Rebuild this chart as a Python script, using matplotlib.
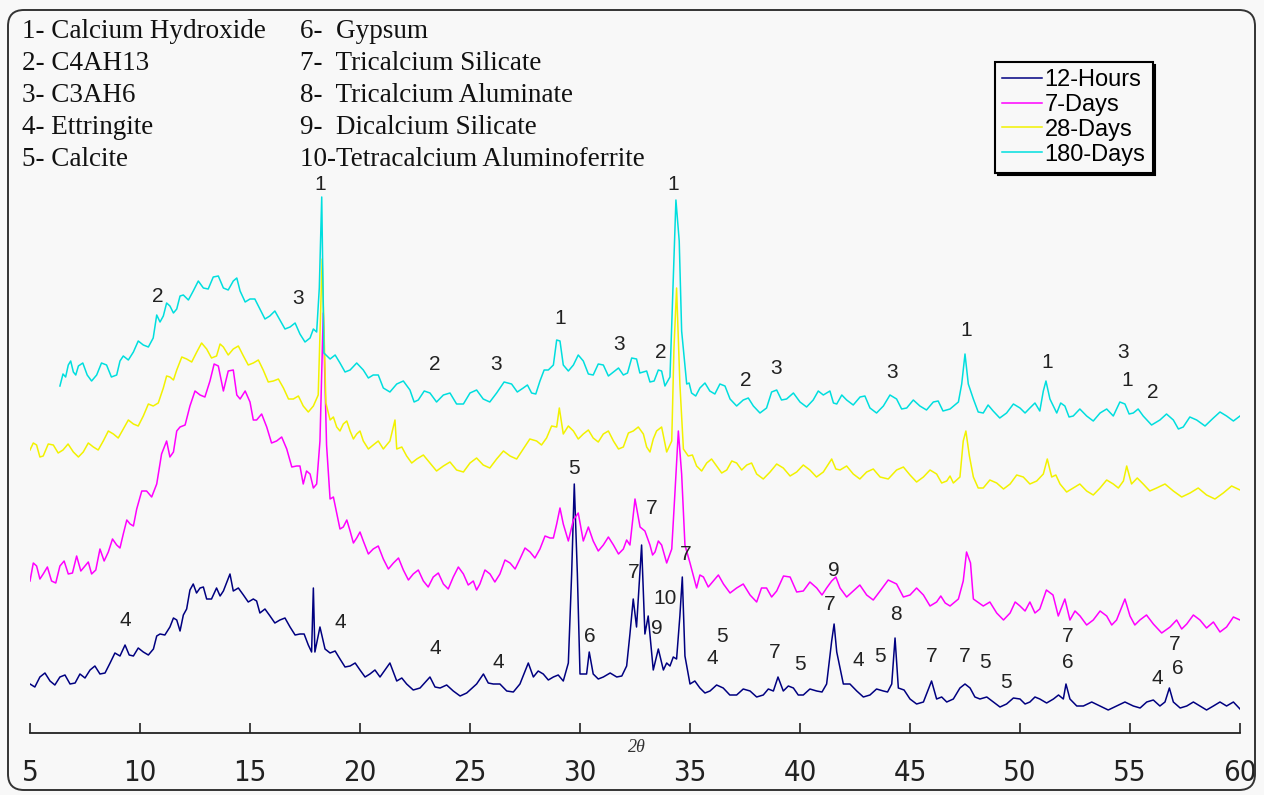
import matplotlib
matplotlib.use("Agg")
import matplotlib.pyplot as plt
from matplotlib.patches import FancyBboxPatch

# ---------------- data (2-theta in degrees, relative intensity) ----------------
x_180d = [6.36, 6.5, 6.62, 6.74, 6.85, 6.97, 7.08, 7.2, 7.4, 7.6, 7.8, 8.03, 8.25, 8.48, 8.7, 8.94,
          9.09, 9.24, 9.47, 9.7, 9.92, 10.15, 10.38, 10.6, 10.76, 10.91, 11.06, 11.21, 11.36, 11.52,
          11.67, 11.82, 11.97, 12.2, 12.42, 12.65, 12.88, 13.1, 13.33, 13.56, 13.79, 14.01, 14.24, 14.4,
          14.55, 14.78, 15.0, 15.22, 15.45, 15.68, 15.9, 16.13, 16.36, 16.59, 16.82, 17.05, 17.27, 17.5,
          17.73, 17.88, 18.03, 18.15, 18.26, 18.36, 18.64, 18.87, 19.09, 19.32, 19.55, 19.85, 20.15, 20.38,
          20.6, 20.83, 21.06, 21.36, 21.67, 21.97, 22.27, 22.46, 22.65, 22.92, 23.18, 23.48, 23.79, 24.09,
          24.39, 24.7, 25.0, 25.3, 25.6, 25.9, 26.21, 26.55, 26.89, 27.15, 27.42, 27.61, 27.8, 27.99,
          28.18, 28.37, 28.56, 28.79, 28.94, 29.09, 29.24, 29.47, 29.7, 29.92, 30.15, 30.38, 30.6, 30.83,
          31.06, 31.29, 31.52, 31.75, 31.97, 32.16, 32.35, 32.57, 32.72, 32.88, 33.03, 33.18, 33.37, 33.56,
          33.71, 33.86, 34.09, 34.24, 34.36, 34.51, 34.62, 34.85, 34.96, 35.07, 35.26, 35.45, 35.68, 35.9,
          36.13, 36.36, 36.59, 36.82, 37.12, 37.42, 37.65, 37.88, 38.18, 38.48, 38.71, 38.94, 39.16, 39.39,
          39.7, 40.0, 40.3, 40.6, 40.83, 41.06, 41.36, 41.52, 41.67, 41.9, 42.12, 42.42, 42.73, 42.95,
          43.18, 43.48, 43.79, 44.09, 44.39, 44.62, 44.85, 45.15, 45.45, 45.75, 46.06, 46.28, 46.5, 46.82,
          47.2, 47.35, 47.5, 47.65, 47.88, 48.1, 48.33, 48.55, 48.78, 49.08, 49.39, 49.7, 50.0, 50.23,
          50.45, 50.68, 50.9, 51.06, 51.18, 51.36, 51.67, 51.85, 52.04, 52.23, 52.42, 52.72, 53.03, 53.33,
          53.64, 53.94, 54.24, 54.54, 54.77, 54.96, 55.15, 55.37, 55.6, 55.98, 56.36, 56.66, 56.97, 57.2,
          57.42, 57.72, 58.03, 58.41, 58.79, 59.09, 59.39, 59.7, 60.0]
y_180d = [347, 359, 356, 368, 372, 361, 358, 367, 370, 358, 352, 358, 370, 368, 356, 358,
          372, 377, 373, 381, 392, 388, 386, 395, 418, 411, 417, 430, 427, 420,
          424, 437, 438, 433, 442, 452, 445, 444, 456, 457, 445, 443, 452, 455,
          442, 431, 434, 434, 424, 414, 417, 422, 413, 404, 406, 410, 399, 391,
          395, 404, 401, 445, 536, 380, 374, 378, 370, 361, 363, 370, 363, 355,
          358, 358, 345, 341, 349, 352, 343, 331, 333, 342, 340, 331, 338, 340,
          329, 329, 340, 343, 334, 331, 340, 351, 349, 341, 345, 348, 340, 339,
          352, 363, 363, 368, 393, 392, 368, 362, 368, 378, 372, 359, 358, 369,
          368, 357, 361, 365, 358, 360, 375, 374, 360, 361, 362, 351, 352, 363,
          362, 347, 356, 456, 533, 492, 402, 349, 350, 340, 337, 345, 350, 342,
          339, 349, 347, 334, 327, 333, 335, 327, 320, 325, 341, 343, 333, 334,
          340, 331, 326, 333, 342, 338, 342, 330, 329, 338, 333, 328, 336, 337,
          325, 320, 327, 338, 334, 324, 325, 333, 327, 323, 331, 332, 322, 324,
          331, 349, 379, 349, 334, 321, 320, 328, 322, 315, 320, 329, 325, 320,
          325, 330, 322, 342, 352, 334, 320, 330, 327, 316, 317, 324, 317, 312,
          320, 324, 317, 331, 329, 319, 320, 324, 317, 308, 313, 319, 313, 304,
          306, 316, 313, 307, 315, 321, 317, 312, 317]

x_28d = [5.0, 5.15, 5.3, 5.45, 5.6, 5.83, 6.06, 6.28, 6.5, 6.73, 6.97, 7.2, 7.42, 7.65, 7.88, 8.1,
         8.33, 8.56, 8.79, 9.01, 9.24, 9.47, 9.7, 9.92, 10.15, 10.38, 10.6, 10.83, 11.06, 11.21,
         11.36, 11.52, 11.67, 11.9, 12.12, 12.35, 12.58, 12.8, 13.03, 13.25, 13.48, 13.64, 13.79, 14.01,
         14.24, 14.47, 14.7, 14.92, 15.15, 15.38, 15.6, 15.83, 16.06, 16.29, 16.52, 16.75, 16.97, 17.2,
         17.42, 17.65, 17.88, 18.1, 18.28, 18.45, 18.64, 18.79, 18.94, 19.09, 19.24, 19.4, 19.55, 19.7,
         19.85, 20.0, 20.15, 20.38, 20.6, 20.83, 21.06, 21.36, 21.59, 21.67, 21.9, 22.12, 22.35, 22.58,
         22.88, 23.18, 23.48, 23.79, 24.09, 24.39, 24.7, 25.0, 25.3, 25.6, 25.9, 26.21, 26.52, 26.82,
         27.12, 27.42, 27.72, 28.03, 28.25, 28.48, 28.71, 28.94, 29.06, 29.24, 29.47, 29.7, 29.92, 30.15,
         30.38, 30.6, 30.83, 31.06, 31.29, 31.52, 31.75, 31.97, 32.2, 32.42, 32.65, 32.88, 33.03, 33.18,
         33.33, 33.48, 33.71, 33.94, 34.17, 34.27, 34.39, 34.54, 34.7, 34.92, 35.11, 35.3, 35.53, 35.76,
         35.98, 36.21, 36.44, 36.67, 36.9, 37.12, 37.35, 37.58, 37.8, 38.03, 38.33, 38.64, 38.94, 39.24,
         39.55, 39.85, 40.15, 40.45, 40.75, 41.06, 41.44, 41.63, 41.82, 42.12, 42.42, 42.72, 43.03, 43.33,
         43.64, 44.01, 44.39, 44.7, 45.0, 45.3, 45.61, 45.91, 46.21, 46.44, 46.67, 46.82, 46.97, 47.27,
         47.42, 47.54, 47.7, 47.88, 48.1, 48.33, 48.63, 48.94, 49.25, 49.55, 49.85, 50.15, 50.45, 50.76,
         51.06, 51.24, 51.44, 51.63, 51.82, 52.12, 52.42, 52.72, 53.03, 53.33, 53.64, 53.94, 54.24, 54.47,
         54.7, 54.85, 55.07, 55.33, 55.6, 55.9, 56.21, 56.59, 56.97, 57.35, 57.73, 58.1, 58.48, 58.86,
         59.24, 59.62, 60.0]
y_28d = [283, 290, 288, 276, 277, 289, 288, 280, 283, 289, 281, 276, 281, 290, 286, 283,
         292, 302, 299, 295, 304, 313, 309, 307, 317, 329, 327, 330, 345, 357,
         356, 353, 363, 376, 374, 371, 381, 390, 384, 375, 377, 389, 386, 378,
         384, 387, 377, 368, 370, 373, 363, 351, 352, 354, 345, 334, 334, 337,
         327, 321, 327, 338, 474, 330, 313, 316, 306, 302, 309, 312, 302, 294,
         299, 302, 292, 284, 288, 292, 284, 292, 313, 284, 286, 277, 270, 274,
         278, 270, 262, 267, 271, 263, 261, 270, 275, 268, 265, 274, 282, 277,
         274, 284, 294, 292, 288, 295, 307, 306, 325, 299, 307, 302, 294, 299,
         303, 295, 291, 299, 302, 292, 284, 286, 300, 302, 306, 299, 286, 281,
         294, 302, 306, 281, 292, 384, 445, 349, 284, 277, 278, 267, 262, 270,
         274, 267, 260, 263, 272, 270, 263, 268, 270, 259, 254, 261, 269, 265,
         257, 261, 268, 263, 256, 261, 274, 264, 263, 267, 259, 254, 261, 264,
         256, 254, 263, 266, 258, 251, 256, 263, 259, 250, 252, 257, 250, 256,
         292, 302, 277, 256, 245, 245, 253, 250, 244, 249, 258, 256, 249, 252,
         259, 274, 256, 258, 249, 241, 245, 249, 242, 238, 245, 253, 249, 245,
         252, 267, 249, 255, 249, 242, 245, 249, 242, 236, 240, 245, 238, 234,
         240, 247, 243]

x_7d = [5.0, 5.15, 5.3, 5.45, 5.6, 5.79, 5.98, 6.17, 6.36, 6.55, 6.74, 6.93, 7.12, 7.31, 7.5, 7.65,
        7.8, 7.99, 8.18, 8.37, 8.56, 8.75, 8.94, 9.09, 9.24, 9.4, 9.55, 9.7, 9.85, 10.08,
        10.3, 10.53, 10.76, 10.98, 11.21, 11.36, 11.52, 11.67, 11.82, 12.05, 12.27, 12.5, 12.73, 12.95,
        13.18, 13.37, 13.56, 13.79, 14.01, 14.24, 14.4, 14.55, 14.78, 15.0, 15.15, 15.3, 15.53, 15.76,
        15.98, 16.21, 16.44, 16.67, 16.9, 17.12, 17.27, 17.42, 17.57, 17.73, 17.88, 18.03, 18.18, 18.33,
        18.48, 18.64, 18.79, 18.94, 19.09, 19.24, 19.4, 19.55, 19.7, 19.85, 20.0, 20.15, 20.38, 20.6,
        20.83, 21.06, 21.29, 21.52, 21.75, 21.97, 22.2, 22.42, 22.65, 22.88, 23.1, 23.33, 23.56, 23.79,
        24.01, 24.24, 24.47, 24.7, 24.92, 25.15, 25.3, 25.45, 25.68, 25.91, 26.13, 26.36, 26.59, 26.82,
        27.05, 27.27, 27.5, 27.73, 27.95, 28.18, 28.41, 28.64, 28.79, 28.94, 29.09, 29.24, 29.47, 29.7,
        29.92, 30.15, 30.38, 30.6, 30.83, 31.06, 31.29, 31.52, 31.75, 31.97, 32.12, 32.27, 32.5, 32.73,
        32.95, 33.18, 33.3, 33.41, 33.56, 33.71, 33.94, 34.17, 34.32, 34.47, 34.62, 34.77, 35.0, 35.3,
        35.45, 35.61, 35.83, 36.06, 36.29, 36.52, 36.82, 37.12, 37.42, 37.73, 38.03, 38.25, 38.48, 38.71,
        38.94, 39.25, 39.55, 39.85, 40.15, 40.45, 40.76, 41.0, 41.21, 41.44, 41.63, 41.82, 42.12, 42.42,
        42.72, 43.03, 43.33, 43.64, 44.01, 44.39, 44.7, 45.0, 45.3, 45.61, 45.91, 46.21, 46.4, 46.6,
        46.82, 47.2, 47.42, 47.57, 47.75, 47.88, 48.33, 48.63, 48.94, 49.25, 49.55, 49.78, 50.0, 50.23,
        50.45, 50.68, 50.9, 51.2, 51.5, 51.74, 52.04, 52.27, 52.5, 52.73, 53.03, 53.33, 53.64, 53.94,
        54.17, 54.39, 54.77, 55.0, 55.22, 55.45, 55.75, 56.06, 56.44, 56.82, 57.12, 57.35, 57.58, 57.88,
        58.18, 58.48, 58.79, 59.09, 59.39, 59.7, 60.0]
y_7d = [152, 170, 167, 154, 159, 166, 152, 150, 167, 172, 159, 160, 177, 162, 167, 171,
        159, 163, 184, 172, 181, 194, 188, 185, 199, 213, 209, 207, 224, 242,
        242, 236, 249, 279, 292, 276, 281, 302, 306, 308, 327, 342, 338, 336,
        352, 369, 367, 342, 362, 363, 338, 334, 342, 331, 313, 313, 319, 306,
        290, 292, 296, 284, 266, 267, 267, 249, 262, 259, 245, 249, 292, 420,
        288, 234, 236, 220, 204, 206, 213, 202, 190, 195, 201, 192, 179, 184,
        187, 174, 164, 170, 175, 163, 153, 159, 163, 152, 146, 156, 160, 149,
        144, 156, 166, 159, 148, 152, 143, 149, 163, 159, 151, 159, 173, 170,
        164, 174, 185, 181, 175, 184, 197, 195, 195, 209, 225, 209, 192, 213,
        220, 192, 206, 192, 182, 188, 196, 188, 179, 184, 193, 188, 234, 206,
        202, 188, 178, 181, 192, 188, 170, 184, 242, 302, 259, 188, 170, 145,
        158, 156, 146, 152, 158, 149, 140, 145, 149, 138, 131, 145, 145, 136,
        142, 157, 156, 141, 142, 151, 145, 138, 145, 152, 156, 145, 136, 142,
        148, 138, 133, 142, 153, 149, 136, 138, 145, 138, 127, 131, 137, 130,
        127, 134, 152, 181, 170, 134, 127, 131, 120, 113, 120, 131, 127, 122,
        131, 120, 124, 143, 138, 117, 134, 113, 122, 117, 108, 113, 122, 117,
        108, 113, 134, 117, 108, 113, 118, 109, 100, 106, 113, 104, 109, 118,
        113, 105, 111, 101, 106, 116, 113]

x_12h = [5.0, 5.22, 5.45, 5.68, 5.91, 6.13, 6.36, 6.59, 6.82, 7.05, 7.27, 7.5, 7.73, 7.95, 8.18, 8.41,
         8.64, 8.86, 9.09, 9.32, 9.51, 9.7, 9.92, 10.15, 10.38, 10.61, 10.76, 10.91, 11.13, 11.36,
         11.52, 11.67, 11.82, 11.97, 12.12, 12.27, 12.42, 12.57, 12.73, 12.88, 13.03, 13.25, 13.48, 13.64,
         13.79, 14.09, 14.24, 14.47, 14.7, 14.92, 15.15, 15.3, 15.45, 15.68, 15.91, 16.13, 16.36, 16.59,
         16.82, 17.05, 17.27, 17.46, 17.65, 17.8, 17.88, 17.95, 18.18, 18.41, 18.64, 18.87, 19.09, 19.32,
         19.55, 19.78, 20.0, 20.23, 20.45, 20.68, 20.91, 21.36, 21.67, 21.9, 22.12, 22.42, 22.73, 23.18,
         23.41, 23.64, 23.94, 24.24, 24.55, 24.85, 25.3, 25.61, 25.83, 26.06, 26.36, 26.67, 26.97, 27.27,
         27.65, 27.88, 28.1, 28.33, 28.56, 28.79, 29.01, 29.24, 29.47, 29.62, 29.74, 29.88, 30.0, 30.3,
         30.42, 30.6, 30.83, 31.06, 31.37, 31.67, 31.9, 32.12, 32.27, 32.42, 32.57, 32.8, 32.95, 33.1,
         33.33, 33.56, 33.79, 33.94, 34.09, 34.24, 34.39, 34.54, 34.65, 34.77, 35.0, 35.22, 35.45, 35.68,
         35.91, 36.21, 36.51, 36.81, 37.12, 37.42, 37.73, 38.03, 38.33, 38.56, 38.79, 39.0, 39.24, 39.47,
         39.7, 39.92, 40.15, 40.45, 40.76, 41.0, 41.21, 41.44, 41.55, 41.67, 41.97, 42.27, 42.58, 42.88,
         43.18, 43.48, 43.79, 43.98, 44.17, 44.32, 44.47, 44.73, 45.0, 45.3, 45.61, 45.98, 46.21, 46.44,
         46.67, 46.97, 47.27, 47.5, 47.73, 47.95, 48.18, 48.49, 48.79, 49.09, 49.39, 49.7, 50.0, 50.23,
         50.45, 50.68, 50.9, 51.21, 51.52, 51.75, 51.97, 52.09, 52.27, 52.58, 52.88, 53.26, 53.64, 54.01,
         54.39, 54.77, 55.15, 55.46, 55.76, 56.06, 56.36, 56.59, 56.79, 56.97, 57.28, 57.58, 57.88, 58.18,
         58.48, 58.79, 59.09, 59.39, 59.7, 60.0]
y_12h = [49, 46, 56, 60, 52, 48, 56, 58, 49, 50, 59, 55, 63, 67, 59, 60,
         70, 80, 77, 88, 78, 77, 85, 81, 78, 84, 97, 99, 98, 106,
         115, 113, 102, 118, 124, 143, 149, 140, 145, 146, 134, 134, 145, 137,
         142, 159, 142, 145, 138, 131, 134, 132, 120, 124, 117, 110, 113, 115,
         106, 98, 99, 99, 88, 81, 145, 81, 106, 84, 80, 82, 74, 66,
         67, 70, 63, 56, 59, 63, 56, 70, 52, 55, 49, 43, 45, 56,
         46, 45, 48, 42, 37, 40, 49, 59, 50, 49, 49, 42, 41, 49,
         70, 56, 62, 59, 53, 56, 58, 52, 70, 159, 249, 159, 59, 59,
         81, 59, 54, 56, 60, 56, 57, 67, 99, 134, 106, 188, 99, 117,
         63, 84, 63, 70, 67, 76, 74, 117, 156, 77, 49, 52, 45, 40,
         42, 48, 45, 38, 38, 44, 42, 36, 38, 44, 42, 56, 42, 47,
         45, 38, 38, 44, 42, 41, 49, 92, 109, 81, 49, 49, 42, 36,
         38, 44, 42, 41, 49, 95, 45, 43, 34, 29, 31, 52, 34, 36,
         31, 34, 45, 49, 45, 36, 34, 36, 31, 26, 29, 35, 34, 29,
         31, 36, 34, 30, 34, 38, 34, 49, 34, 27, 27, 31, 27, 23,
         27, 31, 27, 25, 31, 33, 27, 31, 45, 31, 25, 27, 31, 27,
         23, 27, 31, 27, 31, 24]

series_names = ["12-Hours", "7-Days", "28-Days", "180-Days"]
series_colors = ["#000080", "#ff00ff", "#f2f200", "#00dede"]

x_ticks = [5, 10, 15, 20, 25, 30, 35, 40, 45, 50, 55, 60]

phase_col1 = ["1- Calcium Hydroxide", "2- C4AH13", "3- C3AH6", "4- Ettringite", "5- Calcite"]
phase_col2 = ["6-  Gypsum", "7-  Tricalcium Silicate", "8-  Tricalcium Aluminate",
              "9-  Dicalcium Silicate", "10-Tetracalcium Aluminoferrite"]

# peak labels: (text, 2theta position, height)
peak_labels = [
    ("2", 10.82, 437), ("3", 17.18, 435), ("1", 18.18, 548), ("2", 23.41, 368), ("3", 26.18, 368),
    ("1", 29.09, 415), ("3", 31.77, 388), ("2", 33.68, 381), ("1", 34.23, 548), ("2", 37.55, 353),
    ("3", 38.9, 365), ("3", 44.18, 360), ("1", 47.55, 403), ("1", 51.23, 371), ("3", 54.68, 380),
    ("1", 54.86, 353), ("2", 56.05, 340),
    ("5", 29.73, 265), ("7", 33.27, 225), ("7", 34.82, 178), ("7", 32.45, 160), ("10", 33.86, 135),
    ("9", 33.5, 104), ("6", 30.45, 97), ("4", 9.32, 113), ("4", 19.09, 111), ("4", 23.41, 85),
    ("4", 26.27, 70), ("5", 36.45, 96), ("4", 36.0, 75), ("7", 38.86, 80), ("5", 40.0, 68),
    ("9", 41.55, 162), ("7", 41.36, 128), ("4", 42.64, 73), ("5", 43.64, 76), ("8", 44.36, 118),
    ("7", 46.0, 77), ("7", 47.5, 76), ("5", 48.41, 70), ("5", 49.36, 50), ("7", 52.18, 97),
    ("6", 52.18, 71), ("4", 56.23, 55), ("7", 57.05, 89), ("6", 57.18, 64),
]

# ---------------- figure ----------------
W, H = 1264, 795
fig = plt.figure(figsize=(W / 100, H / 100), dpi=100)
bg = "#f8f8f8"
fig.patch.set_facecolor(bg)

ax = fig.add_axes([30 / W, (H - 733) / H, 1210 / W, 723 / H])
ax.set_facecolor("none")
ax.set_xlim(5, 60)
ax.set_ylim(0, 723)

xs = [x_12h, x_7d, x_28d, x_180d]
ys = [y_12h, y_7d, y_28d, y_180d]
for xv, yv, c, n in zip(xs, ys, series_colors, series_names):
    ax.plot(xv, yv, color=c, lw=1.1, label=n)

for s in ["left", "right", "top"]:
    ax.spines[s].set_visible(False)
ax.spines["bottom"].set_color("#222222")
ax.spines["bottom"].set_linewidth(1.3)
ax.set_yticks([])
ax.set_xticks(x_ticks)
ax.tick_params(axis="x", direction="in", length=7, width=1.2, colors="#222222", pad=19)
for lbl in ax.get_xticklabels():
    lbl.set_fontfamily(["DejaVu Sans"])
    lbl.set_fontstretch("condensed")
    lbl.set_fontsize(21)
    lbl.set_color("#222222")

ax.text(32.6, -15, "2θ", fontsize=13, style="italic", family=["Liberation Serif", "DejaVu Serif"],
        ha="center", va="center", color="#333333", clip_on=False)

for t, xp, yp in peak_labels:
    ax.text(xp, yp, t, fontsize=15, family=["Liberation Sans", "DejaVu Sans"], color="#222222",
            ha="center", va="center")

# phase list (top-left)
for i, t in enumerate(phase_col1):
    fig.text(22 / W, 1 - (32 + i * 32) / H, t, fontsize=19.5,
             family=["Liberation Serif", "DejaVu Serif"], va="center", ha="left", color="#111111")
for i, t in enumerate(phase_col2):
    fig.text(300 / W, 1 - (32 + i * 32) / H, t, fontsize=19.5,
             family=["Liberation Serif", "DejaVu Serif"], va="center", ha="left", color="#111111")

# legend (top-right)
leg = ax.legend(loc="upper left", bbox_to_anchor=(995 / W, 1 - 62 / H), bbox_transform=fig.transFigure,
                frameon=True, fancybox=False, shadow={"color": "black", "alpha": 1},
                prop={"family": ["Liberation Sans", "DejaVu Sans"], "size": 17},
                handlelength=1.7, handletextpad=0.1, labelspacing=0.12, borderpad=0.3,
                borderaxespad=0)
leg.get_frame().set_edgecolor("black")
leg.get_frame().set_linewidth(1.5)
leg.get_frame().set_facecolor(bg)

# outer rounded frame
frame = FancyBboxPatch((0.08, 0.05), 12.47, 7.80, boxstyle="round,pad=0,rounding_size=0.16",
                       transform=fig.dpi_scale_trans, facecolor="none", edgecolor="#333333",
                       linewidth=1.4, zorder=10)
fig.patches.append(frame)

fig.savefig("out.png", dpi=100, facecolor=bg)
